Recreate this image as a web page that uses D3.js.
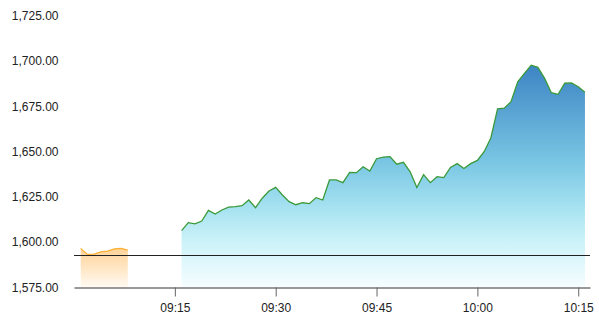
<!DOCTYPE html>
<html>
<head>
<meta charset="utf-8">
<script src="https://cdn.jsdelivr.net/npm/d3@7"></script>
<style>
  body { margin: 0; background: #fff; }
  text { font-family: "Liberation Sans", Arial, sans-serif; }
</style>
</head>
<body>
<div id="chart"></div>
<script>
// pre-open session, one point a minute from 09:01
const preStart = "09:01";
const preValues = [1596.5, 1593.2, 1593.3, 1594.6, 1595.0, 1596.2, 1596.5, 1595.5];

// regular session, one point a minute from 09:16
const mainStart = "09:16";
const mainValues = [
  1606.3, 1610.7, 1610.0, 1611.6, 1617.5, 1615.5, 1617.7, 1619.3, 1619.5, 1620.1,
  1623.2, 1619.0, 1624.2, 1628.2, 1630.2, 1626.0, 1622.3, 1620.6, 1621.7, 1621.2,
  1624.5, 1623.2, 1634.3, 1634.3, 1632.8, 1638.5, 1638.3, 1641.6, 1639.2, 1646.0,
  1646.9, 1647.2, 1643.0, 1644.0, 1638.8, 1630.1, 1637.2, 1632.8, 1636.1, 1635.6,
  1641.2, 1643.3, 1640.6, 1643.3, 1645.1, 1649.9, 1657.5, 1673.5, 1673.9, 1677.5,
  1688.5, 1693.2, 1697.7, 1696.5, 1690.4, 1682.5, 1681.6, 1687.7, 1687.9, 1685.8,
  1682.7
];

const prevClose = 1592.85;
const yTicks = [1575, 1600, 1625, 1650, 1675, 1700, 1725];
const xTickLabels = ["09:15", "09:30", "09:45", "10:00", "10:15"];

const W = 599, H = 329;
const parse = d3.timeParse("%H:%M");
const fmtTime = d3.timeFormat("%H:%M");

function toSeries(start, values) {
  const t0 = parse(start);
  return values.map((v, i) => ({ t: d3.timeMinute.offset(t0, i), v: v }));
}
const pre = toSeries(preStart, preValues);
const main = toSeries(mainStart, mainValues);

const svg = d3.select("#chart").append("svg")
  .attr("width", W).attr("height", H);

const x = d3.scaleTime()
  .domain([parse("09:00"), d3.timeSecond.offset(parse("10:16"), 45)])
  .range([74, 590]);
const y = d3.scaleLinear()
  .domain([1575, 1725])
  .range([287.3, 15.7]);

const defs = svg.append("defs");
function gradient(id, stops) {
  const g = defs.append("linearGradient").attr("id", id)
    .attr("x1", 0).attr("y1", 0).attr("x2", 0).attr("y2", 1);
  stops.forEach(s => g.append("stop").attr("offset", s[0]).attr("stop-color", s[1]));
}
gradient("blueFill", [[0, "#3d84c4"], [0.43, "#78c5e3"], [0.65, "#a8e3f1"], [0.8, "#cdf3f9"], [1, "#f6fdff"]]);
gradient("orangeFill", [[0, "#ffd398"], [0.5, "#ffe6c4"], [1, "#fffaf3"]]);

const area = d3.area().x(d => x(d.t)).y0(y(1575)).y1(d => y(d.v));
const line = d3.line().x(d => x(d.t)).y(d => y(d.v));

svg.append("path").datum(pre).attr("d", area).attr("fill", "url(#orangeFill)");
svg.append("path").datum(pre).attr("d", line)
  .attr("fill", "none").attr("stroke", "#ffb034").attr("stroke-width", 1.2);

svg.append("path").datum(main).attr("d", area).attr("fill", "url(#blueFill)");
svg.append("path").datum(main).attr("d", line)
  .attr("fill", "none").attr("stroke", "#3a9a3a").attr("stroke-width", 1.3);

// previous close
svg.append("line")
  .attr("x1", 74).attr("x2", 590)
  .attr("y1", Math.round(y(prevClose)) + 0.5).attr("y2", Math.round(y(prevClose)) + 0.5)
  .attr("stroke", "#222").attr("stroke-width", 1);

// y axis (labels only)
const yAxis = svg.append("g")
  .attr("transform", "translate(74,0)")
  .call(d3.axisLeft(y).tickValues(yTicks).tickSize(0).tickPadding(15.5).tickFormat(d3.format(",.2f")));
yAxis.select(".domain").remove();
yAxis.selectAll("text").attr("font-size", 12).attr("fill", "#222");

// x axis
const xAxis = svg.append("g")
  .attr("transform", "translate(0,287.5)")
  .call(d3.axisBottom(x)
    .tickValues(xTickLabels.map(parse))
    .tickSize(9).tickPadding(7).tickSizeOuter(0)
    .tickFormat(fmtTime));
xAxis.select(".domain").attr("stroke", "#333");
xAxis.selectAll(".tick line").attr("stroke", "#666");
xAxis.selectAll("text").attr("font-size", 12).attr("fill", "#222");
</script>
</body>
</html>
